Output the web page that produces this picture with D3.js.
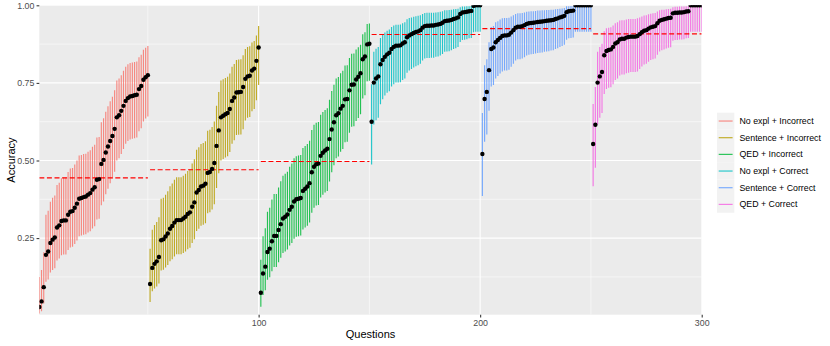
<!DOCTYPE html>
<html>
<head>
<meta charset="utf-8">
<script src="https://cdn.jsdelivr.net/npm/d3@7"></script>
<style>
  body { margin: 0; background: #fff; }
  svg { display: block; font-family: "Liberation Sans", Arial, Helvetica, sans-serif; }
</style>
</head>
<body>
<svg id="chart" width="830" height="346"></svg>
<script>
const groups = ["No expl + Incorrect", "Sentence + Incorrect", "QED + Incorrect",
                "No expl + Correct", "Sentence + Correct", "QED + Correct"];
const groupColors = ["#F8766D", "#B79F00", "#00BA38", "#00BFC4", "#619CFF", "#F564E3"];

// accuracy per question, sorted inside each group, with interval ends
const accNoExplIncorrect = [0.028,0.046,0.092,0.196,0.207,0.234,0.245,0.252,0.284,0.291,0.305,0.307,0.307,0.325,0.335,0.337,0.348,0.361,0.377,0.379,0.382,0.384,0.390,0.395,0.406,0.414,0.438,0.440,0.489,0.502,0.526,0.545,0.563,0.579,0.602,0.639,0.646,0.660,0.676,0.692,0.701,0.706,0.708,0.710,0.712,0.730,0.740,0.760,0.768,0.775];
const loNoExplIncorrect  = [0.007,0.014,0.039,0.109,0.117,0.139,0.147,0.153,0.178,0.184,0.195,0.197,0.197,0.212,0.220,0.222,0.231,0.242,0.256,0.258,0.261,0.262,0.268,0.272,0.281,0.288,0.310,0.312,0.356,0.368,0.391,0.409,0.427,0.442,0.464,0.500,0.507,0.521,0.537,0.554,0.563,0.568,0.570,0.572,0.574,0.594,0.604,0.626,0.635,0.642];
const hiNoExplIncorrect  = [0.125,0.147,0.204,0.325,0.338,0.367,0.380,0.387,0.421,0.428,0.443,0.445,0.445,0.463,0.474,0.476,0.487,0.500,0.516,0.518,0.521,0.522,0.528,0.533,0.544,0.551,0.574,0.576,0.623,0.636,0.657,0.675,0.691,0.705,0.726,0.758,0.764,0.775,0.789,0.802,0.810,0.814,0.816,0.817,0.819,0.833,0.841,0.857,0.863,0.869];

const accSentenceIncorrect = [0.102,0.154,0.167,0.175,0.189,0.243,0.246,0.255,0.265,0.280,0.289,0.300,0.308,0.308,0.308,0.313,0.319,0.328,0.333,0.351,0.365,0.397,0.405,0.416,0.419,0.425,0.460,0.463,0.473,0.492,0.547,0.597,0.639,0.644,0.649,0.653,0.666,0.692,0.703,0.719,0.720,0.721,0.737,0.763,0.771,0.773,0.790,0.796,0.821,0.864];
const loSentenceIncorrect  = [0.044,0.079,0.088,0.094,0.104,0.146,0.148,0.155,0.163,0.175,0.182,0.191,0.198,0.198,0.198,0.202,0.207,0.214,0.219,0.234,0.246,0.273,0.280,0.290,0.293,0.298,0.330,0.333,0.342,0.359,0.411,0.459,0.500,0.505,0.510,0.514,0.527,0.554,0.565,0.582,0.583,0.584,0.601,0.629,0.638,0.640,0.659,0.666,0.694,0.743];
const hiSentenceIncorrect  = [0.216,0.277,0.292,0.302,0.317,0.377,0.380,0.390,0.401,0.417,0.426,0.438,0.446,0.446,0.446,0.451,0.457,0.466,0.472,0.490,0.504,0.535,0.543,0.553,0.556,0.562,0.596,0.599,0.608,0.626,0.676,0.721,0.758,0.762,0.766,0.770,0.780,0.802,0.811,0.824,0.825,0.826,0.839,0.859,0.866,0.868,0.880,0.885,0.903,0.933];

const accQedIncorrect = [0.074,0.136,0.158,0.205,0.216,0.240,0.257,0.257,0.276,0.295,0.313,0.319,0.326,0.341,0.351,0.368,0.375,0.377,0.379,0.402,0.409,0.416,0.427,0.462,0.480,0.488,0.490,0.515,0.525,0.532,0.538,0.569,0.600,0.623,0.646,0.652,0.667,0.676,0.697,0.698,0.726,0.744,0.745,0.761,0.770,0.781,0.826,0.835,0.874,0.876];
const loQedIncorrect  = [0.029,0.067,0.082,0.116,0.124,0.143,0.157,0.157,0.172,0.187,0.202,0.207,0.213,0.226,0.234,0.248,0.254,0.256,0.258,0.278,0.284,0.290,0.300,0.332,0.348,0.355,0.357,0.381,0.390,0.397,0.402,0.432,0.462,0.485,0.507,0.513,0.528,0.537,0.559,0.560,0.589,0.609,0.610,0.627,0.637,0.649,0.700,0.710,0.755,0.757];
const hiQedIncorrect  = [0.180,0.256,0.282,0.335,0.348,0.374,0.392,0.392,0.413,0.433,0.451,0.457,0.464,0.480,0.490,0.507,0.514,0.516,0.518,0.540,0.547,0.553,0.564,0.598,0.615,0.622,0.624,0.647,0.656,0.663,0.668,0.696,0.724,0.744,0.764,0.769,0.781,0.789,0.806,0.807,0.830,0.844,0.845,0.858,0.865,0.873,0.907,0.913,0.940,0.941];

const accNoExplCorrect = [0.625,0.751,0.764,0.771,0.810,0.824,0.834,0.842,0.847,0.859,0.866,0.870,0.870,0.871,0.877,0.881,0.897,0.903,0.907,0.911,0.914,0.916,0.920,0.928,0.933,0.934,0.934,0.935,0.935,0.937,0.938,0.940,0.944,0.949,0.950,0.951,0.953,0.956,0.958,0.961,0.972,0.977,0.978,0.979,0.981,0.982,0.998,1.000,1.000,1.000];
const loNoExplCorrect  = [0.487,0.616,0.630,0.638,0.681,0.697,0.709,0.718,0.723,0.738,0.746,0.751,0.751,0.752,0.759,0.764,0.783,0.790,0.795,0.800,0.804,0.807,0.812,0.822,0.829,0.830,0.830,0.831,0.831,0.834,0.835,0.838,0.843,0.850,0.851,0.852,0.855,0.859,0.862,0.866,0.882,0.888,0.889,0.891,0.894,0.895,0.913,0.915,0.915,0.915];
const hiNoExplCorrect  = [0.746,0.850,0.860,0.866,0.895,0.905,0.912,0.918,0.922,0.930,0.935,0.937,0.937,0.938,0.942,0.945,0.955,0.959,0.961,0.963,0.965,0.966,0.968,0.972,0.975,0.976,0.976,0.976,0.976,0.977,0.978,0.979,0.981,0.984,0.984,0.985,0.986,0.987,0.988,0.989,0.994,0.996,0.996,0.997,0.997,0.998,1.000,1.000,1.000,1.000];

const accSentenceCorrect = [0.521,0.698,0.721,0.791,0.859,0.864,0.881,0.888,0.895,0.901,0.903,0.903,0.905,0.912,0.920,0.928,0.931,0.931,0.933,0.936,0.940,0.942,0.943,0.944,0.945,0.946,0.947,0.948,0.949,0.950,0.951,0.952,0.953,0.956,0.958,0.961,0.963,0.966,0.978,0.981,0.982,0.983,1.000,1.000,1.000,1.000,1.000,1.000,1.000,1.000];
const loSentenceCorrect  = [0.386,0.560,0.584,0.660,0.738,0.743,0.764,0.772,0.780,0.787,0.790,0.790,0.792,0.802,0.812,0.822,0.826,0.826,0.829,0.833,0.838,0.841,0.842,0.843,0.845,0.846,0.847,0.848,0.850,0.851,0.852,0.854,0.855,0.859,0.862,0.866,0.869,0.873,0.889,0.894,0.895,0.896,0.915,0.915,0.915,0.915,0.915,0.915,0.915,0.915];
const hiSentenceCorrect  = [0.653,0.807,0.826,0.881,0.930,0.933,0.945,0.949,0.954,0.958,0.959,0.959,0.960,0.964,0.968,0.972,0.974,0.974,0.975,0.977,0.979,0.980,0.981,0.981,0.982,0.983,0.983,0.984,0.984,0.985,0.985,0.986,0.986,0.987,0.988,0.989,0.990,0.991,0.997,0.997,0.998,0.998,1.000,1.000,1.000,1.000,1.000,1.000,1.000,1.000];

const accQedCorrect = [0.553,0.615,0.751,0.771,0.785,0.839,0.853,0.856,0.858,0.866,0.877,0.881,0.890,0.892,0.892,0.896,0.898,0.899,0.899,0.899,0.901,0.907,0.913,0.918,0.920,0.925,0.929,0.931,0.933,0.942,0.950,0.953,0.955,0.957,0.959,0.960,0.974,0.976,0.976,0.977,0.977,0.978,0.980,0.981,1.000,1.000,1.000,1.000,1.000,1.000];
const loQedCorrect  = [0.417,0.477,0.616,0.638,0.653,0.714,0.730,0.734,0.736,0.746,0.759,0.764,0.774,0.777,0.777,0.781,0.783,0.785,0.785,0.785,0.787,0.795,0.803,0.809,0.812,0.818,0.824,0.826,0.829,0.841,0.851,0.855,0.858,0.861,0.863,0.865,0.886,0.888,0.888,0.890,0.890,0.891,0.894,0.895,0.915,0.915,0.915,0.915,0.915,0.915];
const hiQedCorrect  = [0.682,0.737,0.850,0.866,0.876,0.916,0.926,0.928,0.929,0.935,0.942,0.945,0.951,0.952,0.952,0.954,0.956,0.956,0.956,0.956,0.958,0.961,0.964,0.967,0.968,0.971,0.973,0.974,0.975,0.980,0.984,0.986,0.986,0.987,0.988,0.989,0.994,0.995,0.995,0.996,0.996,0.996,0.997,0.997,1.000,1.000,1.000,1.000,1.000,1.000];

const groupMeans = [0.444, 0.470, 0.497, 0.906, 0.925, 0.908];

const xTicks = [100, 200, 300];
const xMinor = [50, 150, 250];
const yTicks = [0.25, 0.50, 0.75, 1.00];
const yMinor = [0.125, 0.375, 0.625, 0.875];

const accs = [accNoExplIncorrect, accSentenceIncorrect, accQedIncorrect, accNoExplCorrect, accSentenceCorrect, accQedCorrect];
const los  = [loNoExplIncorrect, loSentenceIncorrect, loQedIncorrect, loNoExplCorrect, loSentenceCorrect, loQedCorrect];
const his  = [hiNoExplIncorrect, hiSentenceIncorrect, hiQedIncorrect, hiNoExplCorrect, hiSentenceCorrect, hiQedCorrect];

const rows = [];
accs.forEach((arr, g) => arr.forEach((v, i) => {
    rows.push({ q: rows.length + 1, g: g, acc: v, lo: los[g][i], hi: his[g][i] });
}));

const means = groupMeans.map((m, g) => {
    const qs = rows.filter(d => d.g === g).map(d => d.q);
    return { g: g, mean: m, q0: d3.min(qs), q1: d3.max(qs) };
});

const panel = { left: 39.3, right: 701.7, top: 5.3, bottom: 314.7 };

const svg = d3.select("#chart");

const x = d3.scaleLinear().domain([1, 300]).range([panel.left, panel.right]);
const y = d3.scaleLinear().domain([0.0032, 1]).range([panel.bottom, panel.top]);
const color = d3.scaleOrdinal().domain(d3.range(groups.length)).range(groupColors);

svg.append("defs").append("clipPath").attr("id", "clip")
    .append("rect")
    .attr("x", panel.left).attr("y", panel.top)
    .attr("width", panel.right - panel.left).attr("height", panel.bottom - panel.top);

svg.append("rect")
    .attr("x", panel.left).attr("y", panel.top)
    .attr("width", panel.right - panel.left).attr("height", panel.bottom - panel.top)
    .attr("fill", "#EBEBEB");

const grid = svg.append("g").attr("clip-path", "url(#clip)");

grid.selectAll(".ymin").data(yMinor).enter().append("line")
    .attr("x1", panel.left).attr("x2", panel.right)
    .attr("y1", d => y(d)).attr("y2", d => y(d))
    .attr("stroke", "#fff").attr("stroke-width", 0.55);
grid.selectAll(".xmin").data(xMinor).enter().append("line")
    .attr("y1", panel.top).attr("y2", panel.bottom)
    .attr("x1", d => x(d)).attr("x2", d => x(d))
    .attr("stroke", "#fff").attr("stroke-width", 0.55);
grid.selectAll(".ymaj").data(yTicks).enter().append("line")
    .attr("x1", panel.left).attr("x2", panel.right)
    .attr("y1", d => y(d)).attr("y2", d => y(d))
    .attr("stroke", "#fff").attr("stroke-width", 1.1);
grid.selectAll(".xmaj").data(xTicks).enter().append("line")
    .attr("y1", panel.top).attr("y2", panel.bottom)
    .attr("x1", d => x(d)).attr("x2", d => x(d))
    .attr("stroke", "#fff").attr("stroke-width", 1.1);

const plot = svg.append("g").attr("clip-path", "url(#clip)");

plot.selectAll(".bar").data(rows).enter().append("line")
    .attr("class", "bar")
    .attr("x1", d => x(d.q)).attr("x2", d => x(d.q))
    .attr("y1", d => y(d.lo)).attr("y2", d => y(d.hi))
    .attr("stroke", d => color(d.g))
    .attr("stroke-width", 1.15)
    .attr("stroke-opacity", 0.85);

plot.selectAll(".mean").data(means).enter().append("line")
    .attr("x1", d => x(d.q0)).attr("x2", d => x(d.q1))
    .attr("y1", d => y(d.mean)).attr("y2", d => y(d.mean))
    .attr("stroke", "#FF0000")
    .attr("stroke-width", 1.1)
    .attr("stroke-dasharray", "5,2.6");

plot.selectAll(".pt").data(rows).enter().append("circle")
    .attr("cx", d => x(d.q)).attr("cy", d => y(d.acc))
    .attr("r", 2.2)
    .attr("fill", "#000");

// axes
const yAxis = svg.append("g")
    .attr("transform", `translate(${panel.left},0)`)
    .call(d3.axisLeft(y).tickValues(yTicks).tickFormat(d3.format(".2f")).tickSize(2.75).tickPadding(2.2));
const xAxis = svg.append("g")
    .attr("transform", `translate(0,${panel.bottom})`)
    .call(d3.axisBottom(x).tickValues(xTicks).tickFormat(d3.format("d")).tickSize(2.75).tickPadding(2.2));

[xAxis, yAxis].forEach(a => {
    a.select(".domain").remove();
    a.selectAll(".tick line").attr("stroke", "#333333").attr("stroke-width", 1.07);
    a.selectAll(".tick text")
        .attr("fill", "#4D4D4D")
        .style("font-size", "8.8px")
        .style("font-family", "'Liberation Sans', Arial, sans-serif");
});

svg.append("text")
    .attr("x", (panel.left + panel.right) / 2)
    .attr("y", 338)
    .attr("text-anchor", "middle")
    .style("font-size", "11px")
    .attr("fill", "#000")
    .text("Questions");

svg.append("text")
    .attr("transform", `translate(15,${(panel.top + panel.bottom) / 2}) rotate(-90)`)
    .attr("text-anchor", "middle")
    .style("font-size", "11px")
    .attr("fill", "#000")
    .text("Accuracy");

// legend
const keyH = 16.67, keyW = 17.3, legTop = 112.7, legLeft = 717;
const legend = svg.append("g");
const item = legend.selectAll(".item").data(groups).enter().append("g")
    .attr("transform", (d, i) => `translate(${legLeft},${legTop + i * keyH})`);
item.append("rect")
    .attr("width", keyW).attr("height", keyH)
    .attr("fill", "#F2F2F2");
item.append("line")
    .attr("x1", 1.7).attr("x2", keyW - 1.7)
    .attr("y1", keyH / 2).attr("y2", keyH / 2)
    .attr("stroke", (d, i) => color(i))
    .attr("stroke-width", 1.15)
    .attr("stroke-opacity", 0.85);
item.append("text")
    .attr("x", keyW + 5.2)
    .attr("y", keyH / 2)
    .attr("dy", "0.35em")
    .style("font-size", "8.8px")
    .attr("fill", "#000")
    .text(d => d);
</script>
</body>
</html>
